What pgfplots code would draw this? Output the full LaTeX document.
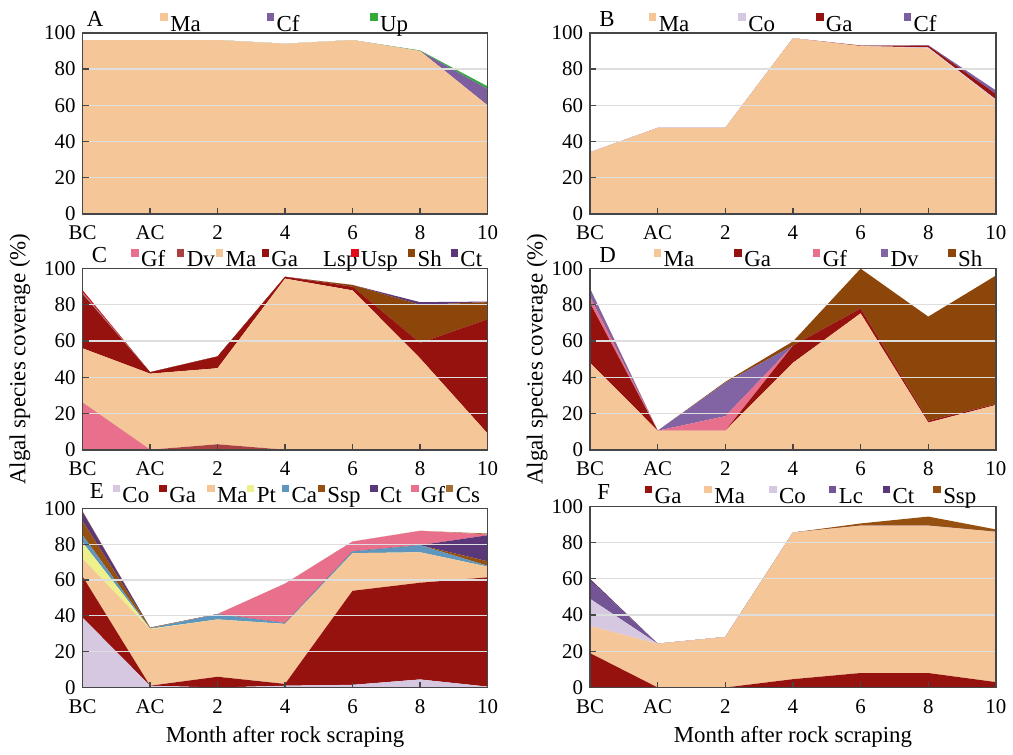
\documentclass[border=0pt]{standalone}
\usepackage{fontspec}
\setmainfont{Liberation Serif}
\usepackage{pgfplots}
\usepackage{pgfplotstable}
\pgfplotsset{compat=1.18}

\definecolor{cMa}{RGB}{245,199,152}
\definecolor{cGa}{RGB}{150,18,14}
\definecolor{cCf}{RGB}{125,95,160}
\definecolor{cUp}{RGB}{50,170,60}
\definecolor{cCo}{RGB}{215,200,226}
\definecolor{cGf}{RGB}{232,112,140}
\definecolor{cDvC}{RGB}{170,65,65}
\definecolor{cDvD}{RGB}{130,100,165}
\definecolor{cLsp}{RGB}{150,150,160}
\definecolor{cUsp}{RGB}{225,10,25}
\definecolor{cSh}{RGB}{140,70,10}
\definecolor{cCt}{RGB}{90,55,120}
\definecolor{cPt}{RGB}{238,240,140}
\definecolor{cCa}{RGB}{95,150,190}
\definecolor{cSsp}{RGB}{150,80,15}
\definecolor{cCs}{RGB}{165,110,50}
\definecolor{cLc}{RGB}{115,85,150}
\definecolor{gridgray}{RGB}{222,222,222}
\definecolor{axisgray}{RGB}{70,70,70}

\pgfplotstableread{
x Ma Cf Up
0 96 0 0
1 96 0 0
2 96 0 0
3 94 0 0
4 96 0 0
5 90 0 0.3
6 60 9 1.5
}\tabA
\pgfplotstableread{
x Ma Co Ga Cf
0 34 0 0 0
1 47.5 0 0 0
2 47.5 0 0 0
3 97 0 0 0
4 92.7 0 0.3 0
5 91.4 0.5 1 0.3
6 62.5 0.7 3 2
}\tabB
\pgfplotstableread{
x Gf Dv Ma Ga Lsp Usp Sh Ct
0 26 0 30 30 0.8 1.2 0 0
1 0 0 42 0.8 0 0 0 0
2 0 3 42 6.5 0 0 0 0
3 0 0 94.5 1 0 0 0 0
4 0 0 88 2 0 0 1 0
5 0 0 50.5 8.5 0 0 21 1.5
6 0 0 9 63 0 0 9.5 0.3
}\tabC
\pgfplotstableread{
x Ma Ga Gf Dv Sh
0 48 33 3.5 4.5 0
1 10.5 0 0 0 0
2 10.5 0 8 18.5 0.5
3 48 9.5 0 0 2.3
4 75.3 2.7 0 0 22
5 15 1 0 0 57.5
6 24.7 0.5 0 0 71
}\tabD
\pgfplotstableread{
x Co Ga Ma Pt Ca Ssp Ct Gf Cs
0 39 23 10 9 4 8 5 0 0.5
1 1 0 31.5 0.3 0.3 0.3 0 0 0
2 0 6 32 0 3 0 0 0 0
3 1 1 33.5 0 0.5 0 0 22 0
4 1.5 52.5 21 0 1 0 0 5.5 0
5 4.5 54 17 0 4 0 0 8 0
6 0.5 61 6 0 0.5 2.5 14.5 0.5 0.5
}\tabE
\pgfplotstableread{
x Ga Ma Co Lc Ct Ssp
0 19 15 15 10 1 0
1 0 24.2 0 0 0 0
2 0 27.9 0 0 0 0
3 4.6 81 0 0 0 0
4 8 81.4 0 0 0 1.2
5 8 81.4 0 0 0 5
6 3 83 0 0 0 1.3
}\tabF

\newcommand{\lfont}{\fontsize{11.5}{13}\selectfont}
\tikzset{letter/.style={anchor=base west, inner sep=0pt, font=\lfont}}
\pgfplotsset{
  layers/mylayers/.define layer set={axis background,axis grid,main,axis ticks,axis lines,axis tick labels,axis descriptions,axis foreground}{},
  panel/.style={
    set layers=mylayers, clip mode=individual,
    scale only axis, height=91pt,
    xmin=0, xmax=6, ymin=0, ymax=100,
    xtick={0,...,6}, xticklabels={BC,AC,2,4,6,8,10},
    ytick={0,20,...,100},
    tick align=inside, xtick pos=bottom, ytick pos=left,
    major tick length=3pt,
    ymajorgrids, grid style={gridgray, line width=0.6pt},
    axis line style={axisgray, line width=0.8pt},
    tick style={axisgray, line width=0.6pt},
    stack plots=y, area style,
    every axis plot/.append style={draw=none},
    legend image code/.code={\fill[##1,draw=none] (0pt,1.4pt) rectangle (3.8pt,5.2pt); \path (5pt,-0.4pt);},
    legend style={draw=none, fill=none, legend columns=-1, anchor=south west,
      inner sep=0pt, outer sep=0pt, nodes={inner sep=0pt, outer sep=0pt},
      column sep=0pt, font=\lfont},
    font=\fontsize{10.5}{12}\selectfont,
    /pgf/number format/assume math mode=true,
    tick label style={font=\fontsize{10.5}{12}\selectfont},
    xticklabel style={yshift=-2.5pt},
    label style={font=\lfont},
  },
}
\newcommand{\E}[2]{\makebox[#1][l]{#2\strut}}

\begin{document}
\begin{tikzpicture}

% ---------- A ----------
\begin{axis}[panel, width=203.5pt, at={(41.5pt,-107.5pt)}, anchor=south west,
  legend style={at={(axis description cs:0.192,1)}, yshift=-0.6pt}]
\addplot[fill=cMa] table[x=x,y=Ma]{\tabA} \closedcycle;
\addlegendentry{\E{48.5pt}{Ma}}
\addplot[fill=cCf] table[x=x,y=Cf]{\tabA} \closedcycle;
\addlegendentry{\E{47pt}{Cf}}
\addplot[fill=cUp] table[x=x,y=Up]{\tabA} \closedcycle;
\addlegendentry{Up\strut}
\node[letter, xshift=2pt, yshift=3pt] at (axis description cs:0,1) {A};
\end{axis}

% ---------- B ----------
\begin{axis}[panel, width=204pt, at={(296.5pt,-107.5pt)}, anchor=south west,
  legend style={at={(axis description cs:0.145,1)}, yshift=-0.6pt}]
\addplot[fill=cMa] table[x=x,y=Ma]{\tabB} \closedcycle;
\addlegendentry{\E{40pt}{Ma}}
\addplot[fill=cCo] table[x=x,y=Co]{\tabB} \closedcycle;
\addlegendentry{\E{34pt}{Co}}
\addplot[fill=cGa] table[x=x,y=Ga]{\tabB} \closedcycle;
\addlegendentry{\E{39pt}{Ga}}
\addplot[fill=cCf] table[x=x,y=Cf]{\tabB} \closedcycle;
\addlegendentry{Cf\strut}
\node[letter, xshift=4.5pt, yshift=3pt] at (axis description cs:0,1) {B};
\end{axis}

% ---------- C ----------
\begin{axis}[panel, width=203.5pt, at={(41.5pt,-226pt)}, anchor=south west,
  legend style={at={(axis description cs:0.12,1)}, yshift=-0.6pt},
  ylabel={Algal species coverage (\%)},
  ylabel style={at={(axis description cs:-0.155,0.5)}, anchor=center}]
\addplot[fill=cGf] table[x=x,y=Gf]{\tabC} \closedcycle;
\addlegendentry{\E{18pt}{Gf}}
\addplot[fill=cDvC] table[x=x,y=Dv]{\tabC} \closedcycle;
\addlegendentry{\E{14.5pt}{Dv}}
\addplot[fill=cMa] table[x=x,y=Ma]{\tabC} \closedcycle;
\addlegendentry{\E{18pt}{Ma}}
\addplot[fill=cGa] table[x=x,y=Ga]{\tabC} \closedcycle;
\addlegendentry{\E{21pt}{Ga}}
\addplot[fill=cLsp, forget plot] table[x=x,y=Lsp]{\tabC} \closedcycle;
\addlegendimage{fill=white, draw=none}
\addlegendentry{\E{14pt}{Lsp}}
\addplot[fill=cUsp] table[x=x,y=Usp]{\tabC} \closedcycle;
\addlegendentry{\E{23.5pt}{Usp}}
\addplot[fill=cSh] table[x=x,y=Sh]{\tabC} \closedcycle;
\addlegendentry{\E{16.5pt}{Sh}}
\addplot[fill=cCt] table[x=x,y=Ct]{\tabC} \closedcycle;
\addlegendentry{Ct\strut}
\node[letter, xshift=4.5pt, yshift=3pt] at (axis description cs:0,1) {C};
\end{axis}

% ---------- D ----------
\begin{axis}[panel, width=204pt, at={(296.5pt,-226pt)}, anchor=south west,
  legend style={at={(axis description cs:0.157,1)}, yshift=-0.6pt},
  ylabel={Algal species coverage (\%)},
  ylabel style={at={(axis description cs:-0.13,0.5)}, anchor=center}]
\addplot[fill=cMa] table[x=x,y=Ma]{\tabD} \closedcycle;
\addlegendentry{\E{35.5pt}{Ma}}
\addplot[fill=cGa] table[x=x,y=Ga]{\tabD} \closedcycle;
\addlegendentry{\E{34.5pt}{Ga}}
\addplot[fill=cGf] table[x=x,y=Gf]{\tabD} \closedcycle;
\addlegendentry{\E{29pt}{Gf}}
\addplot[fill=cDvD] table[x=x,y=Dv]{\tabD} \closedcycle;
\addlegendentry{\E{29pt}{Dv}}
\addplot[fill=cSh] table[x=x,y=Sh]{\tabD} \closedcycle;
\addlegendentry{Sh\strut}
\node[letter, xshift=4.5pt, yshift=3pt] at (axis description cs:0,1) {D};
\end{axis}

% ---------- E ----------
\begin{axis}[panel, width=203.5pt, height=90pt, at={(41.5pt,-345.5pt)}, anchor=south west,
  legend style={at={(axis description cs:0.074,1)}, yshift=1.5pt},
  xlabel={Month after rock scraping},
  xlabel style={at={(axis description cs:0.5,0)}, anchor=center, yshift=-25pt}]
\addplot[fill=cCo] table[x=x,y=Co]{\tabE} \closedcycle;
\addlegendentry{\E{18.5pt}{Co}}
\addplot[fill=cGa] table[x=x,y=Ga]{\tabE} \closedcycle;
\addlegendentry{\E{19pt}{Ga}}
\addplot[fill=cMa] table[x=x,y=Ma]{\tabE} \closedcycle;
\addlegendentry{\E{15pt}{Ma}}
\addplot[fill=cPt] table[x=x,y=Pt]{\tabE} \closedcycle;
\addlegendentry{\E{12.5pt}{Pt}}
\addplot[fill=cCa] table[x=x,y=Ca]{\tabE} \closedcycle;
\addlegendentry{\E{13pt}{Ca}}
\addplot[fill=cSsp] table[x=x,y=Ssp]{\tabE} \closedcycle;
\addlegendentry{\E{21.5pt}{Ssp}}
\addplot[fill=cCt] table[x=x,y=Ct]{\tabE} \closedcycle;
\addlegendentry{\E{15.5pt}{Ct}}
\addplot[fill=cGf] table[x=x,y=Gf]{\tabE} \closedcycle;
\addlegendentry{\E{12.5pt}{Gf}}
\addplot[fill=cCs] table[x=x,y=Cs]{\tabE} \closedcycle;
\addlegendentry{Cs\strut}
\node[letter, xshift=3.5pt, yshift=5pt] at (axis description cs:0,1) {E};
\end{axis}

% ---------- F ----------
\begin{axis}[panel, width=204pt, at={(296.5pt,-345.5pt)}, anchor=south west,
  legend style={at={(axis description cs:0.135,1)}, yshift=-0.2pt},
  xlabel={Month after rock scraping},
  xlabel style={at={(axis description cs:0.5,0)}, anchor=center, yshift=-25pt}]
\addplot[fill=cGa] table[x=x,y=Ga]{\tabF} \closedcycle;
\addlegendentry{\E{25pt}{Ga}}
\addplot[fill=cMa] table[x=x,y=Ma]{\tabF} \closedcycle;
\addlegendentry{\E{27.5pt}{Ma}}
\addplot[fill=cCo] table[x=x,y=Co]{\tabF} \closedcycle;
\addlegendentry{\E{25pt}{Co}}
\addplot[fill=cLc] table[x=x,y=Lc]{\tabF} \closedcycle;
\addlegendentry{\E{22pt}{Lc}}
\addplot[fill=cCt] table[x=x,y=Ct]{\tabF} \closedcycle;
\addlegendentry{\E{20.5pt}{Ct}}
\addplot[fill=cSsp] table[x=x,y=Ssp]{\tabF} \closedcycle;
\addlegendentry{Ssp\strut}
\node[letter, xshift=3.5pt, yshift=3.5pt] at (axis description cs:0,1) {F};
\end{axis}

\path (0,0) rectangle (506.5pt,-374.5pt);
\end{tikzpicture}
\end{document}
